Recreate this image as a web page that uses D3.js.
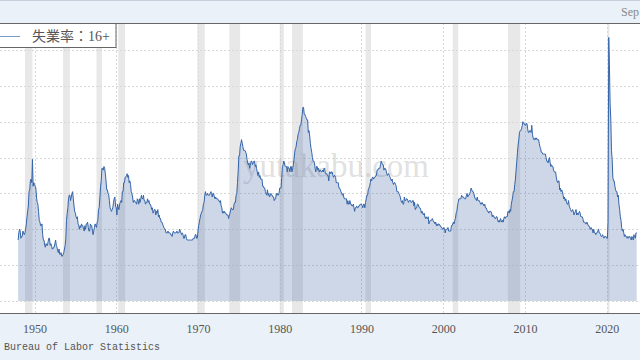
<!DOCTYPE html>
<html><head><meta charset="utf-8">
<script src="https://cdn.jsdelivr.net/npm/d3@7"></script>
<style>html,body{margin:0;padding:0;background:#fff;overflow:hidden}</style>
</head><body><svg id="c" width="640" height="360"></svg>
<script>
const startYear = 1948;
const seriesName = "失業率：16+";
const sourceText = "Bureau of Labor Statistics";
const headerText = "Sep";
const watermark = "yutakabu.com";
const tickYears = [1950,1960,1970,1980,1990,2000,2010,2020];
const yTicks = [0,2,4,6,8,10,12,14];
// monthly unemployment rate, Jan 1948 .. Sep 2023
const rates = [
3.4,3.8,4.0,3.9,3.5,3.6,3.6,3.9,3.8,3.7,3.8,4.0,
4.3,4.7,5.0,5.3,6.1,6.2,6.7,6.8,6.6,7.9,6.4,6.6,
6.5,6.4,6.3,5.8,5.5,5.4,5.0,4.5,4.4,4.2,4.2,4.3,
3.7,3.4,3.4,3.1,3.0,3.2,3.1,3.1,3.3,3.5,3.5,3.1,
3.2,3.1,2.9,2.9,3.0,3.0,3.2,3.4,3.1,3.0,2.8,2.7,
2.9,2.6,2.6,2.7,2.5,2.5,2.6,2.7,2.9,3.1,3.5,4.5,
4.9,5.2,5.7,5.9,5.9,5.6,5.8,6.0,6.1,5.7,5.3,5.0,
4.9,4.7,4.6,4.7,4.3,4.2,4.0,4.2,4.1,4.3,4.2,4.2,
4.0,3.9,4.2,4.0,4.3,4.3,4.4,4.1,3.9,3.9,4.3,4.2,
4.2,3.9,3.7,3.9,4.1,4.3,4.2,4.1,4.4,4.5,5.1,5.2,
5.8,6.4,6.7,7.4,7.4,7.3,7.5,7.4,7.1,6.7,6.2,6.2,
6.0,5.9,5.6,5.2,5.1,5.0,5.1,5.2,5.5,5.7,5.8,5.3,
5.2,4.8,5.4,5.2,5.1,5.4,5.5,5.6,5.5,6.1,6.1,6.6,
6.6,6.9,6.9,7.0,7.1,6.9,7.0,6.6,6.7,6.5,6.1,6.0,
5.8,5.5,5.6,5.6,5.5,5.5,5.4,5.7,5.6,5.4,5.7,5.5,
5.7,5.9,5.7,5.7,5.9,5.6,5.6,5.4,5.5,5.5,5.7,5.5,
5.6,5.4,5.4,5.3,5.1,5.2,4.9,5.0,5.1,5.1,4.8,5.0,
4.9,5.1,4.7,4.8,4.6,4.6,4.4,4.4,4.3,4.2,4.1,4.0,
4.0,3.8,3.8,3.8,3.9,3.8,3.8,3.8,3.7,3.7,3.6,3.8,
3.9,3.8,3.8,3.8,3.8,3.9,3.8,3.8,3.8,4.0,3.9,3.8,
3.7,3.8,3.7,3.5,3.5,3.7,3.7,3.5,3.4,3.4,3.4,3.4,
3.4,3.4,3.4,3.4,3.4,3.5,3.5,3.5,3.7,3.7,3.5,3.5,
3.9,4.2,4.4,4.6,4.8,4.9,5.0,5.1,5.4,5.5,5.9,6.1,
5.9,5.9,6.0,5.9,5.9,5.9,6.0,6.1,6.0,5.8,6.0,6.0,
5.8,5.7,5.8,5.7,5.7,5.7,5.6,5.6,5.5,5.6,5.3,5.2,
4.9,5.0,4.9,5.0,4.9,4.9,4.8,4.8,4.8,4.6,4.8,4.9,
5.1,5.2,5.1,5.1,5.1,5.4,5.5,5.5,5.9,6.0,6.6,7.2,
8.1,8.1,8.6,8.8,9.0,8.8,8.6,8.4,8.4,8.4,8.3,8.2,
7.9,7.7,7.6,7.7,7.4,7.6,7.8,7.8,7.6,7.7,7.8,7.8,
7.5,7.6,7.4,7.2,7.0,7.2,6.9,7.0,6.8,6.8,6.8,6.4,
6.4,6.3,6.3,6.1,6.0,5.9,6.2,5.9,6.0,5.8,5.9,6.0,
5.9,5.9,5.8,5.8,5.6,5.7,5.7,6.0,5.9,6.0,5.9,6.0,
6.3,6.3,6.3,6.9,7.5,7.6,7.8,7.7,7.5,7.5,7.5,7.2,
7.5,7.4,7.4,7.2,7.5,7.5,7.2,7.4,7.6,7.9,8.3,8.5,
8.6,8.9,9.0,9.3,9.4,9.6,9.8,9.8,10.1,10.4,10.8,10.8,
10.4,10.4,10.3,10.2,10.1,10.1,9.4,9.5,9.2,8.8,8.5,8.3,
8.0,7.8,7.8,7.7,7.4,7.2,7.5,7.5,7.3,7.4,7.2,7.3,
7.3,7.2,7.2,7.3,7.2,7.4,7.4,7.1,7.1,7.1,7.0,7.0,
6.7,7.2,7.2,7.1,7.2,7.2,7.0,6.9,7.0,7.0,6.9,6.6,
6.6,6.6,6.6,6.3,6.3,6.2,6.1,6.0,5.9,6.0,5.8,5.7,
5.7,5.7,5.7,5.4,5.6,5.4,5.4,5.6,5.4,5.4,5.3,5.3,
5.4,5.2,5.0,5.2,5.2,5.3,5.2,5.2,5.3,5.3,5.4,5.4,
5.4,5.3,5.2,5.4,5.4,5.2,5.5,5.7,5.9,5.9,6.2,6.3,
6.4,6.6,6.8,6.7,6.9,6.9,6.8,6.9,6.9,7.0,7.0,7.3,
7.3,7.4,7.4,7.4,7.6,7.8,7.7,7.6,7.6,7.3,7.4,7.4,
7.3,7.1,7.0,7.1,7.1,7.0,6.9,6.8,6.7,6.8,6.6,6.5,
6.6,6.6,6.5,6.4,6.1,6.1,6.1,6.0,5.9,5.8,5.6,5.5,
5.6,5.4,5.4,5.8,5.6,5.6,5.7,5.7,5.6,5.5,5.6,5.6,
5.6,5.5,5.5,5.6,5.6,5.3,5.5,5.1,5.2,5.2,5.4,5.4,
5.3,5.2,5.2,5.1,4.9,5.0,4.9,4.8,4.9,4.7,4.6,4.7,
4.6,4.6,4.7,4.3,4.4,4.5,4.5,4.5,4.6,4.5,4.4,4.4,
4.3,4.4,4.2,4.3,4.2,4.3,4.3,4.2,4.2,4.1,4.1,4.0,
4.0,4.1,4.0,3.8,4.0,4.0,4.0,4.1,3.9,3.9,3.9,3.9,
4.2,4.2,4.3,4.4,4.3,4.5,4.6,4.9,5.0,5.3,5.5,5.7,
5.7,5.7,5.7,5.9,5.8,5.8,5.8,5.7,5.7,5.7,5.9,6.0,
5.8,5.9,5.9,6.0,6.1,6.3,6.2,6.1,6.1,6.0,5.8,5.7,
5.7,5.6,5.8,5.6,5.6,5.6,5.5,5.4,5.4,5.5,5.4,5.4,
5.3,5.4,5.2,5.2,5.1,5.0,5.0,4.9,5.0,5.0,5.0,4.9,
4.7,4.8,4.7,4.7,4.6,4.6,4.7,4.7,4.5,4.4,4.5,4.4,
4.6,4.5,4.4,4.5,4.4,4.6,4.7,4.6,4.7,4.7,4.7,5.0,
5.0,4.9,5.1,5.0,5.4,5.6,5.8,6.1,6.1,6.5,6.8,7.3,
7.8,8.3,8.7,9.0,9.4,9.5,9.5,9.6,9.8,10.0,9.9,9.9,
9.8,9.8,9.9,9.9,9.6,9.4,9.4,9.5,9.5,9.4,9.8,9.3,
9.1,9.0,9.0,9.1,9.0,9.1,9.0,9.0,9.0,8.8,8.6,8.5,
8.3,8.3,8.2,8.2,8.2,8.2,8.2,8.0,7.8,7.8,7.7,7.9,
8.0,7.7,7.5,7.6,7.5,7.5,7.3,7.2,7.2,7.2,6.9,6.7,
6.6,6.7,6.7,6.2,6.3,6.1,6.2,6.1,5.9,5.7,5.8,5.6,
5.7,5.5,5.4,5.4,5.6,5.3,5.2,5.1,5.0,5.0,5.1,5.0,
4.8,4.9,5.0,5.1,4.8,4.9,4.8,4.9,5.0,4.9,4.7,4.7,
4.7,4.6,4.4,4.4,4.4,4.3,4.3,4.4,4.3,4.2,4.2,4.1,
4.0,4.1,4.0,4.0,3.8,4.0,3.8,3.8,3.7,3.8,3.8,3.9,
4.0,3.8,3.8,3.7,3.6,3.6,3.7,3.6,3.5,3.6,3.6,3.6,
3.5,3.5,4.4,14.7,13.2,11.0,10.2,8.4,7.9,6.9,6.7,6.7,
6.4,6.2,6.1,6.1,5.8,5.9,5.4,5.1,4.7,4.5,4.1,3.9,
4.0,3.8,3.6,3.7,3.6,3.6,3.5,3.6,3.5,3.6,3.6,3.5,
3.4,3.6,3.5,3.4,3.7,3.6,3.5,3.8,3.8
];
// NBER recessions (start, end) as "YYYY-MM"
const recessionStarts = ["1948-11","1953-07","1957-08","1960-04","1969-12","1973-11","1980-01","1981-07","1990-07","2001-03","2007-12","2020-02"];
const recessionEnds   = ["1949-10","1954-05","1958-04","1961-02","1970-11","1975-03","1980-07","1982-11","1991-03","2001-11","2009-06","2020-04"];

const W = 640, H = 360;
const plotTop = 23, plotBottom = 313;
const svg = d3.select("#c");
const parseYM = d3.timeParse("%Y-%m");
const data = rates.map((v,i)=>({date:new Date(startYear + Math.floor(i/12), i%12, 1), v}));

const x = d3.scaleTime()
  .domain([new Date(1950,0,1), new Date(2020,0,1)])
  .range([34.5, 606.7]);
const y = d3.scaleLinear().domain([0,14]).range([301,50]);

// header band
svg.append("rect").attr("x",0).attr("y",0).attr("width",W).attr("height",plotTop).attr("fill","#eaf1f9");
svg.append("line").attr("x1",0).attr("x2",W).attr("y1",0.5).attr("y2",0.5).attr("stroke","#c5cfdb");
svg.append("text").attr("x",621).attr("y",16).attr("font-family","Liberation Serif, serif")
  .attr("font-size",12).attr("fill","#888").text(headerText);

// footer band
svg.append("rect").attr("x",0).attr("y",plotBottom).attr("width",W).attr("height",H-plotBottom).attr("fill","#eaf1f9");

// recessions
svg.append("g").selectAll("rect").data(recessionStarts.map((s,i)=>[parseYM(s),parseYM(recessionEnds[i])]))
  .join("rect")
  .attr("x",d=>x(d[0])).attr("width",d=>Math.max(2,x(d[1])-x(d[0])))
  .attr("y",plotTop).attr("height",plotBottom-plotTop).attr("fill","#e8e8e8");

// grid
const grid = svg.append("g").attr("stroke","#d8d8d8").attr("stroke-dasharray","2,2").attr("stroke-width",1);
grid.selectAll("line.h").data(yTicks).join("line").attr("class","h")
  .attr("x1",0).attr("x2",W).attr("y1",d=>Math.round(y(d))+0.5).attr("y2",d=>Math.round(y(d))+0.5);
grid.selectAll("line.v").data(tickYears).join("line").attr("class","v")
  .attr("x1",d=>Math.round(x(new Date(d,0,1)))+0.5).attr("x2",d=>Math.round(x(new Date(d,0,1)))+0.5)
  .attr("y1",plotTop).attr("y2",plotBottom);

// watermark
svg.append("text").attr("x",336).attr("y",177).attr("text-anchor","middle")
  .attr("font-family","Liberation Serif, serif").attr("font-size",33)
  .attr("fill","#bbb").attr("fill-opacity",0.45).text(watermark);

// area + line
const area = d3.area().x(d=>x(d.date)).y0(y(0)).y1(d=>y(d.v));
svg.append("path").datum(data).attr("d",area).attr("fill","rgb(60,100,165)").attr("fill-opacity",0.26);
const line = d3.line().x(d=>x(d.date)).y(d=>y(d.v));
svg.append("path").datum(data).attr("d",line).attr("fill","none").attr("stroke","#3464a8").attr("stroke-width",1);

// borders
svg.append("line").attr("x1",0).attr("x2",W).attr("y1",plotTop+0.5).attr("y2",plotTop+0.5).attr("stroke","#666");
svg.append("line").attr("x1",0).attr("x2",W).attr("y1",plotBottom+0.5).attr("y2",plotBottom+0.5).attr("stroke","#666");

// x axis
const xAxis = d3.axisBottom(x).tickValues(tickYears.map(d=>new Date(d,0,1))).tickFormat(d3.timeFormat("%Y")).tickSize(0).tickPadding(11);
const ax = svg.append("g").attr("transform",`translate(0,${plotBottom})`).call(xAxis);
ax.select(".domain").remove();
ax.selectAll("text").attr("font-family","Liberation Serif, serif").attr("font-size",12).attr("fill","#555");

// source
svg.append("text").attr("x",4).attr("y",350).attr("font-family","Liberation Mono, monospace")
  .attr("font-size",10).attr("fill","#555").text(sourceText);

// legend
const lg = svg.append("g");
lg.append("rect").attr("x",-1).attr("y",plotTop+0.5).attr("width",117).attr("height",24).attr("fill","#fff").attr("stroke","#666");
lg.append("line").attr("x1",0).attr("x2",20).attr("y1",36.5).attr("y2",36.5).attr("stroke","#7a9cc8").attr("stroke-width",1);
lg.append("text").attr("x",32).attr("y",41).attr("font-family","Liberation Serif, 'Noto Sans CJK JP', serif")
  .attr("font-size",14).attr("fill","#555").text(seriesName);
</script></body></html>
